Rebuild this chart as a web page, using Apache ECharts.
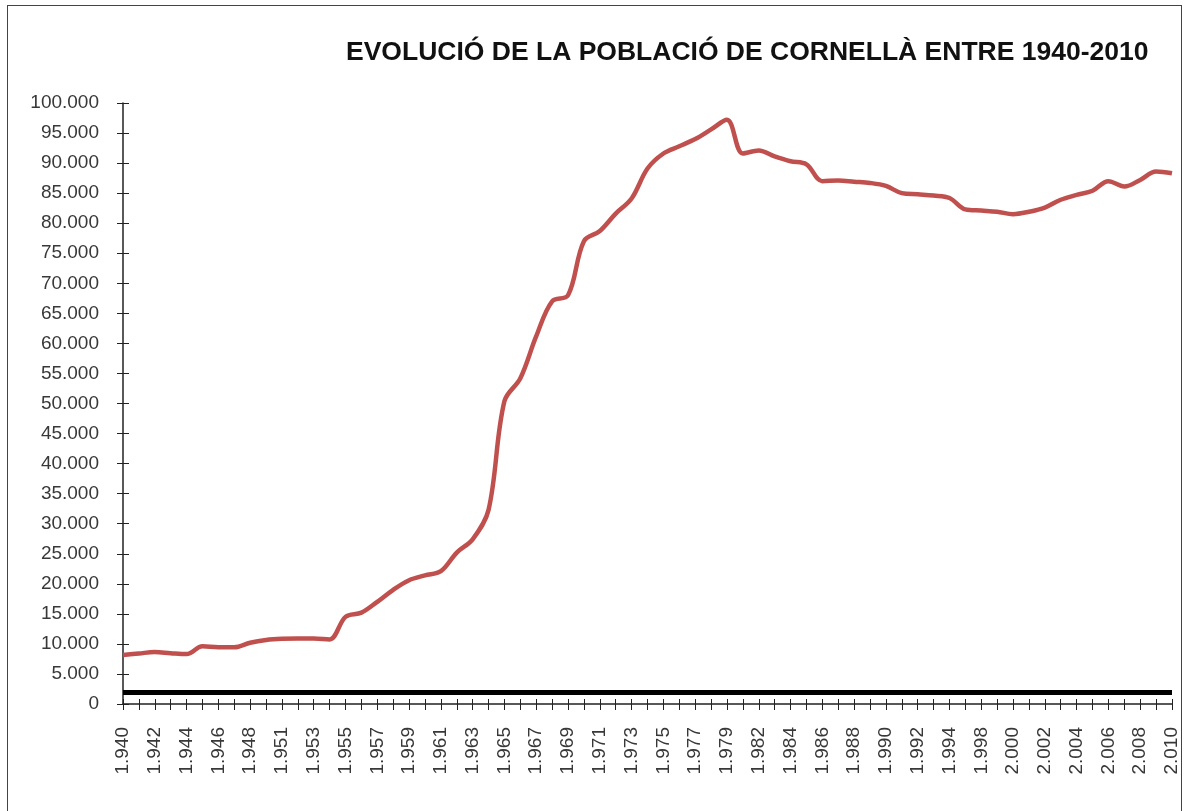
<!DOCTYPE html>
<html>
<head>
<meta charset="utf-8">
<title>Evolució de la població de Cornellà</title>
<script src="https://cdn.jsdelivr.net/npm/echarts@6/dist/echarts.min.js"></script>
<style>
    html, body {margin: 0; padding: 0; background: #fff;}
    #frame {position: absolute; left: 7px; top: 5px; width: 1173px; height: 830px; border: 1px solid #444;}
    #chart {position: absolute; left: 0; top: 0; width: 1184px; height: 811px;}
</style>
</head>
<body>
<div id="frame"></div>
<div id="chart"></div>
<script>
// anys del padró (hi falten 1949, 1980, 1995, 1997)
const years = [
    1940, 1941, 1942, 1943, 1944, 1945, 1946, 1947, 1948, 1950,
    1951, 1952, 1953, 1954, 1955, 1956, 1957, 1958, 1959, 1960,
    1961, 1962, 1963, 1964, 1965, 1966, 1967, 1968, 1969, 1970,
    1971, 1972, 1973, 1974, 1975, 1976, 1977, 1978, 1979, 1981,
    1982, 1983, 1984, 1985, 1986, 1987, 1988, 1989, 1990, 1991,
    1992, 1993, 1994, 1996, 1998, 1999, 2000, 2001, 2002, 2003,
    2004, 2005, 2006, 2007, 2008, 2009, 2010,
]
const population = [
    8150, 8400, 8650, 8450, 8300, 9600, 9450, 9450, 10200, 10650,
    10850, 10900, 10900, 10750, 14500, 15200, 17000, 19000, 20600, 21400,
    22100, 25200, 27400, 32300, 50400, 54200, 61200, 67000, 68000, 77000,
    78700, 81600, 84100, 89100, 91600, 92800, 94000, 95600, 97200, 91600,
    92100, 91100, 90300, 89800, 87000, 87100, 86900, 86700, 86200, 85000,
    84800, 84600, 84200, 82300, 82100, 81900, 81500, 81900, 82600, 83900,
    84700, 85400, 87000, 86100, 87200, 88600, 88300,
]
const baseLine = 2000
const yTicks = {min: 0, max: 100000, interval: 5000}

const dots = (n) => String(n).replace(/\B(?=(\d{3})+(?!\d))/g, '.')
const categories = years.map(dots)

const labelFont = {fontFamily: 'Liberation Sans, Arial, sans-serif', fontSize: 19, color: '#383838'}
const axisColor = '#222'

const chart = echarts.init(document.getElementById('chart'))
chart.setOption({
    animation: false,
    title: {
        text: 'EVOLUCIÓ DE LA POBLACIÓ DE CORNELLÀ ENTRE 1940-2010',
        left: 341,
        top: 34,
        textStyle: {
            fontFamily: 'Liberation Sans, Arial, sans-serif',
            fontSize: 26.5,
            fontWeight: 'bold',
            color: '#111',
        },
    },
    grid: {left: 123, right: 12, top: 103, bottom: 107},
    xAxis: [
        {
            type: 'category',
            data: categories,
            boundaryGap: false,
            axisLine: {lineStyle: {color: axisColor, width: 1.5}},
            axisTick: {interval: 0, length: 6, lineStyle: {color: axisColor}},
            axisLabel: {...labelFont, interval: 1, rotate: 90, margin: 23},
            splitLine: {show: false},
        },
        {
            type: 'category',
            data: categories,
            boundaryGap: false,
            position: 'bottom',
            axisLine: {show: false},
            axisTick: {interval: 0, inside: true, length: 5, lineStyle: {color: axisColor}},
            axisLabel: {show: false},
            splitLine: {show: false},
        },
    ],
    yAxis: [
        {
            type: 'value',
            ...yTicks,
            axisLine: {show: true, lineStyle: {color: axisColor, width: 1.5}},
            axisTick: {show: true, length: 6, lineStyle: {color: axisColor}},
            axisLabel: {...labelFont, margin: 24, formatter: dots},
            splitLine: {show: false},
        },
        {
            type: 'value',
            ...yTicks,
            position: 'left',
            axisLine: {show: false},
            axisTick: {show: true, inside: true, length: 6, lineStyle: {color: axisColor}},
            axisLabel: {show: false},
            splitLine: {show: false},
        },
    ],
    series: [
        {
            name: 'Població',
            type: 'line',
            data: population,
            smooth: 0.35,
            symbol: 'none',
            lineStyle: {color: '#c0504d', width: 4.5},
            markLine: {
                silent: true,
                symbol: 'none',
                label: {show: false},
                lineStyle: {color: '#000', width: 5, type: 'solid'},
                data: [{yAxis: baseLine}],
            },
        },
    ],
})
</script>
</body>
</html>
